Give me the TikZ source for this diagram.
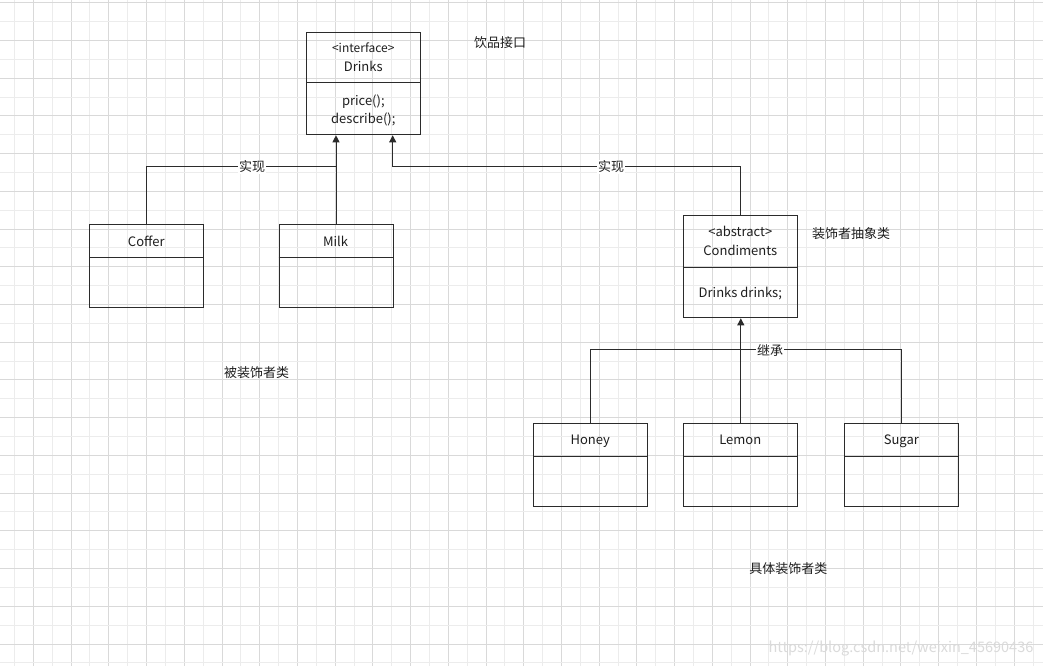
\documentclass[tikz,border=0pt]{standalone}
\usepackage{fontspec}
\setmainfont{Noto Sans CJK SC}
\usetikzlibrary{arrows.meta}
\definecolor{gridA}{HTML}{D9D9D9}
\definecolor{gridB}{HTML}{ECECEC}
\definecolor{ln}{HTML}{2B2B2B}
\definecolor{tx}{HTML}{1E1E1E}
\definecolor{wm}{HTML}{DADADA}
\begin{document}
\begin{tikzpicture}[x=1pt,y=-1pt,
  box/.style={draw=ln, line width=1pt, minimum width=114pt, inner sep=0pt, anchor=north west},
  txt/.style={inner sep=0pt, text=tx, text height=10pt, text depth=3pt, font=\fontsize{13}{15}\selectfont},
  small/.style={inner sep=0pt, text=tx, text height=9.5pt, text depth=2.7pt, font=\fontsize{12}{14}\selectfont},
  lbl/.style={inner sep=1pt, fill=white, text=tx, font=\fontsize{13}{15}\selectfont},
  conn/.style={draw=ln, line width=1pt},
  arr/.style={conn, -{Triangle[length=7pt,width=7pt]}}]
\useasboundingbox (0,0) rectangle (1046,667);
\fill[white] (0,0) rectangle (1046,667);
% grid
\begin{scope}
\clip (0,0) rectangle (1043,666);
\foreach \k in {0,...,27} {
  \draw[gridB, line width=0.9pt] ({14.5+37.72*\k},0) -- ++(0,666);
  \draw[gridA, line width=0.9pt] ({33.36+37.72*\k},0) -- ++(0,666);
}
\foreach \k in {0,...,17} {
  \draw[gridA, line width=0.9pt] (0,{2.7+37.72*\k}) -- ++(1043,0);
  \draw[gridB, line width=0.9pt] (0,{21.56+37.72*\k}) -- ++(1043,0);
}
\end{scope}
% classes
\node[box, minimum height=102pt] (drinks) at (306.3,32.3) {};
\draw[conn] (306.3,82.3) -- (420.3,82.3);
\node[small] (drinksst) at (363.3,49.3) {<interface>};
\node[txt] (drinksnm) at (363.3,67.8) {Drinks};
\node[txt] (drinksm1) at (363.3,101.5) {price();};
\node[txt] (drinksm2) at (363.3,119.8) {describe();};

\node[box, minimum height=82.7pt] (coffer) at (89.3,224.3) {};
\draw[conn] (89.3,257.3) -- (203.3,257.3);
\node[txt] (coffernm) at (146.3,242.5) {Coffer};

\node[box, minimum height=82.7pt] (milk) at (278.5,224.3) {};
\draw[conn] (278.5,257.3) -- (392.5,257.3);
\node[txt] (milknm) at (335.5,242.5) {Milk};

\node[box, minimum height=102pt] (cond) at (683.3,215.3) {};
\draw[conn] (683.3,267.3) -- (797.3,267.3);
\node[txt] (condst) at (740.3,232.8) {<abstract>};
\node[txt] (condnm) at (740.3,251.5) {Condiments};
\node[txt] (condf) at (740.3,293.8) {Drinks drinks;};

\node[box, minimum height=82.7pt] (honey) at (533.3,423.3) {};
\draw[conn] (533.3,456.3) -- (647.3,456.3);
\node[txt] (honeynm) at (590.3,440.5) {Honey};

\node[box, minimum height=82.7pt] (lemon) at (683.3,423.3) {};
\draw[conn] (683.3,456.3) -- (797.3,456.3);
\node[txt] (lemonnm) at (740.3,440.5) {Lemon};

\node[box, minimum height=82.7pt] (sugar) at (844.3,423.3) {};
\draw[conn] (844.3,456.3) -- (958.3,456.3);
\node[txt] (sugarnm) at (901.3,440.5) {Sugar};

% connectors
\coordinate (j1) at (335.5,166.5);
\coordinate (j2) at (392.7,166.5);
\coordinate (j3) at (740.3,349.3);
\draw[arr] (milk.north) -- (milk.north |- drinks.south);
\draw[conn] (coffer.north) |- (j1);
\draw[arr] (cond.north) |- (j2) -- (j2 |- drinks.south);
\node[lbl] (l1) at (252,167) {实现};
\node[lbl] (l2) at (611,167) {实现};
\draw[arr] (lemon.north) -- (cond.south);
\draw[conn] (honey.north) |- (sugar.north |- j3) -- (sugar.north);
\node[lbl] (l3) at (770,350) {继承};

% annotations
\node[txt] (t1) at (500,44) {饮品接口};
\node[txt] (t2) at (851,235) {装饰者抽象类};
\node[txt] (t3) at (256.7,374) {被装饰者类};
\node[txt] (t4) at (788.3,570) {具体装饰者类};
\node[inner sep=0pt, text=wm, font=\fontsize{14.5}{16}\selectfont] (wmk) at (901,649) {https://blog.csdn.net/weixin\_45690436};
\end{tikzpicture}
\end{document}
